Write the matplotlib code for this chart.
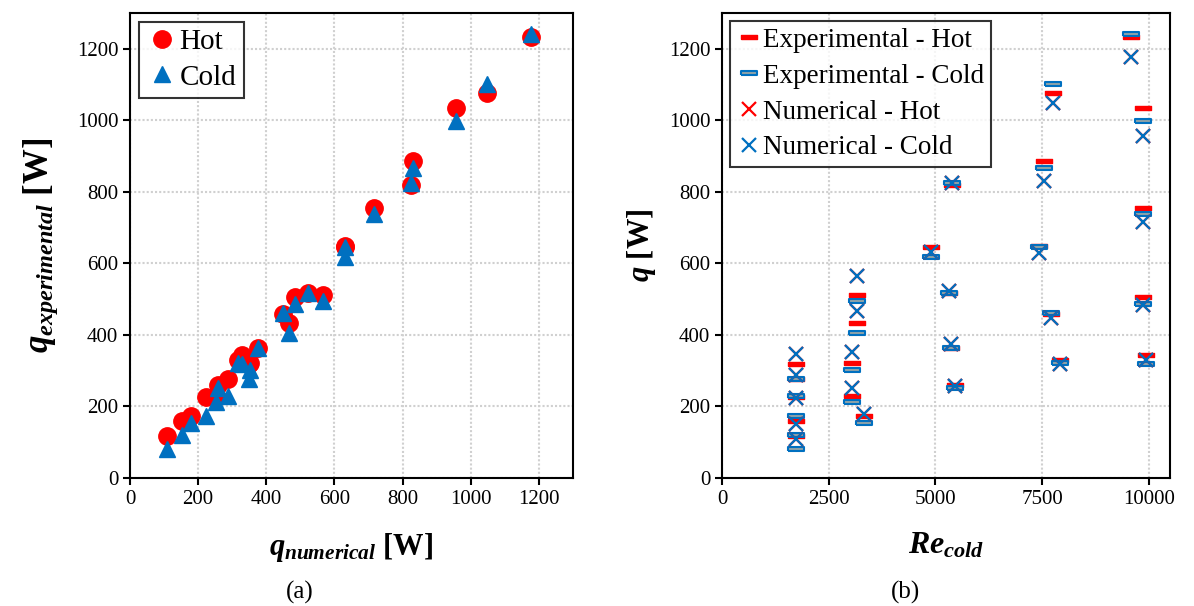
import matplotlib
matplotlib.use("Agg")
import matplotlib.pyplot as plt

plt.rcParams["font.family"] = "Liberation Serif"
plt.rcParams["mathtext.fontset"] = "custom"
plt.rcParams["mathtext.it"] = "Liberation Serif:bold:italic"
plt.rcParams["mathtext.rm"] = "Liberation Serif:bold"
plt.rcParams["mathtext.bf"] = "Liberation Serif:bold"

# --------------------------------------------------
# Messwerte (je Versuch: Re, q_exp heiss/kalt, q_num heiss/kalt)
# --------------------------------------------------

re_cold = [1726, 1726, 1726, 1726, 1726,
           3037, 3037, 3160, 3160, 3325,
           4900, 5400, 5325, 5363, 5457,
           7760, 7541, 7424, 7720, 7916,
           9578, 9867, 9867, 9867, 9946]

q_exp_hot = [320, 278, 227, 158, 118,
             322, 229, 511, 434, 174,
             647, 819, 516, 364, 260,
             1076, 886, 650, 459, 329,
             1232, 1034, 756, 507, 345]

q_exp_cold = [278, 229, 172, 120, 80,
              301, 213, 495, 406, 155,
              618, 824, 517, 364, 252,
              1101, 868, 647, 460, 322,
              1240, 998, 737, 486, 320]

q_num_hot = [348, 288, 223, 152, 108,
             353, 251, 565, 466, 179,
             632, 826, 522, 375, 257,
             1048, 830, 630, 448, 318,
             1177, 957, 716, 485, 329]

q_num_cold = [348, 288, 223, 152, 108,
              353, 251, 565, 466, 179,
              632, 826, 522, 375, 257,
              1048, 830, 630, 448, 318,
              1177, 957, 716, 485, 329]

left_ticks = [0, 200, 400, 600, 800, 1000, 1200]
re_ticks = [0, 2500, 5000, 7500, 10000]

RED = "#ff0000"
BLUE = "#0070c0"

# flacher Balken als Marker
bar = [(-1, -0.28), (1, -0.28), (1, 0.28), (-1, 0.28), (-1, -0.28)]

fig = plt.figure(figsize=(11.94, 6.06), dpi=100)
ax1 = fig.add_axes([0.1089, 0.2112, 0.3710, 0.7673])
ax2 = fig.add_axes([0.6047, 0.2112, 0.3752, 0.7673])


def style_axes(ax):
    ax.grid(True, color="#d0d0d0", linestyle=(0, (1, 1)), linewidth=1.5)
    ax.set_axisbelow(True)
    for s in ax.spines.values():
        s.set_linewidth(1.5)
        s.set_color("black")
    ax.tick_params(direction="out", length=5, width=1.5, labelsize=15)
    ax.set_yticks(left_ticks)
    ax.set_ylim(0, 1300)


# --------------------------------------------------
# (a) Experiment vs. Simulation
# --------------------------------------------------

ax1.plot(q_num_hot, q_exp_hot, "o", color=RED, markersize=12.5,
         linestyle="none", label="Hot", zorder=3)
ax1.plot(q_num_cold, q_exp_cold, "^", color=BLUE, markersize=12,
         linestyle="none", label="Cold", zorder=4)

style_axes(ax1)
ax1.set_xticks(left_ticks)
ax1.set_xlim(0, 1300)
ax1.set_xlabel(r"$q_{numerical}$ [W]", fontsize=22, fontweight="bold", labelpad=16)
ax1.set_ylabel(r"$q_{experimental}$ [W]", fontsize=25, fontweight="bold", labelpad=12)

leg1 = ax1.legend(loc="upper left", fontsize=21, frameon=True, fancybox=False,
                  edgecolor="black", handletextpad=0.05, handlelength=1.1,
                  borderpad=0.25, labelspacing=0.3, borderaxespad=0.3)
leg1.get_frame().set_linewidth(1.5)

# --------------------------------------------------
# (b) Waermestrom ueber Re_cold
# --------------------------------------------------

ax2.plot(re_cold, q_exp_hot, linestyle="none", marker=bar, markersize=11.5,
         markerfacecolor=RED, markeredgecolor=RED, markeredgewidth=1,
         label="Experimental - Hot", zorder=3)
ax2.plot(re_cold, q_exp_cold, linestyle="none", marker=bar, markersize=11.5,
         markerfacecolor="#8fa3a8", markeredgecolor=BLUE, markeredgewidth=1.5,
         label="Experimental - Cold", zorder=4)
ax2.plot(re_cold, q_num_hot, "x", color=RED, markersize=10, markeredgewidth=1.6,
         linestyle="none", label="Numerical - Hot", zorder=5)
ax2.plot(re_cold, q_num_cold, "x", color=BLUE, markersize=10, markeredgewidth=1.6,
         linestyle="none", label="Numerical - Cold", zorder=6)

style_axes(ax2)
ax2.set_xticks(re_ticks)
ax2.set_xlim(0, 10500)
ax2.set_xlabel(r"$Re_{cold}$", fontsize=23, fontweight="bold", labelpad=16)
ax2.set_ylabel(r"$q$ [W]", fontsize=22, fontweight="bold", labelpad=8)

leg2 = ax2.legend(loc="upper left", fontsize=19.5, frameon=True, fancybox=False,
                  edgecolor="black", handletextpad=0.05, handlelength=0.9,
                  borderpad=0.25, labelspacing=0.4, borderaxespad=0.3)
leg2.get_frame().set_linewidth(1.5)

fig.text(300 / 1194, 1 - 592 / 606, "(a)", ha="center", va="center", fontsize=18)
fig.text(905 / 1194, 1 - 592 / 606, "(b)", ha="center", va="center", fontsize=18)

plt.savefig("out.png", dpi=100)
